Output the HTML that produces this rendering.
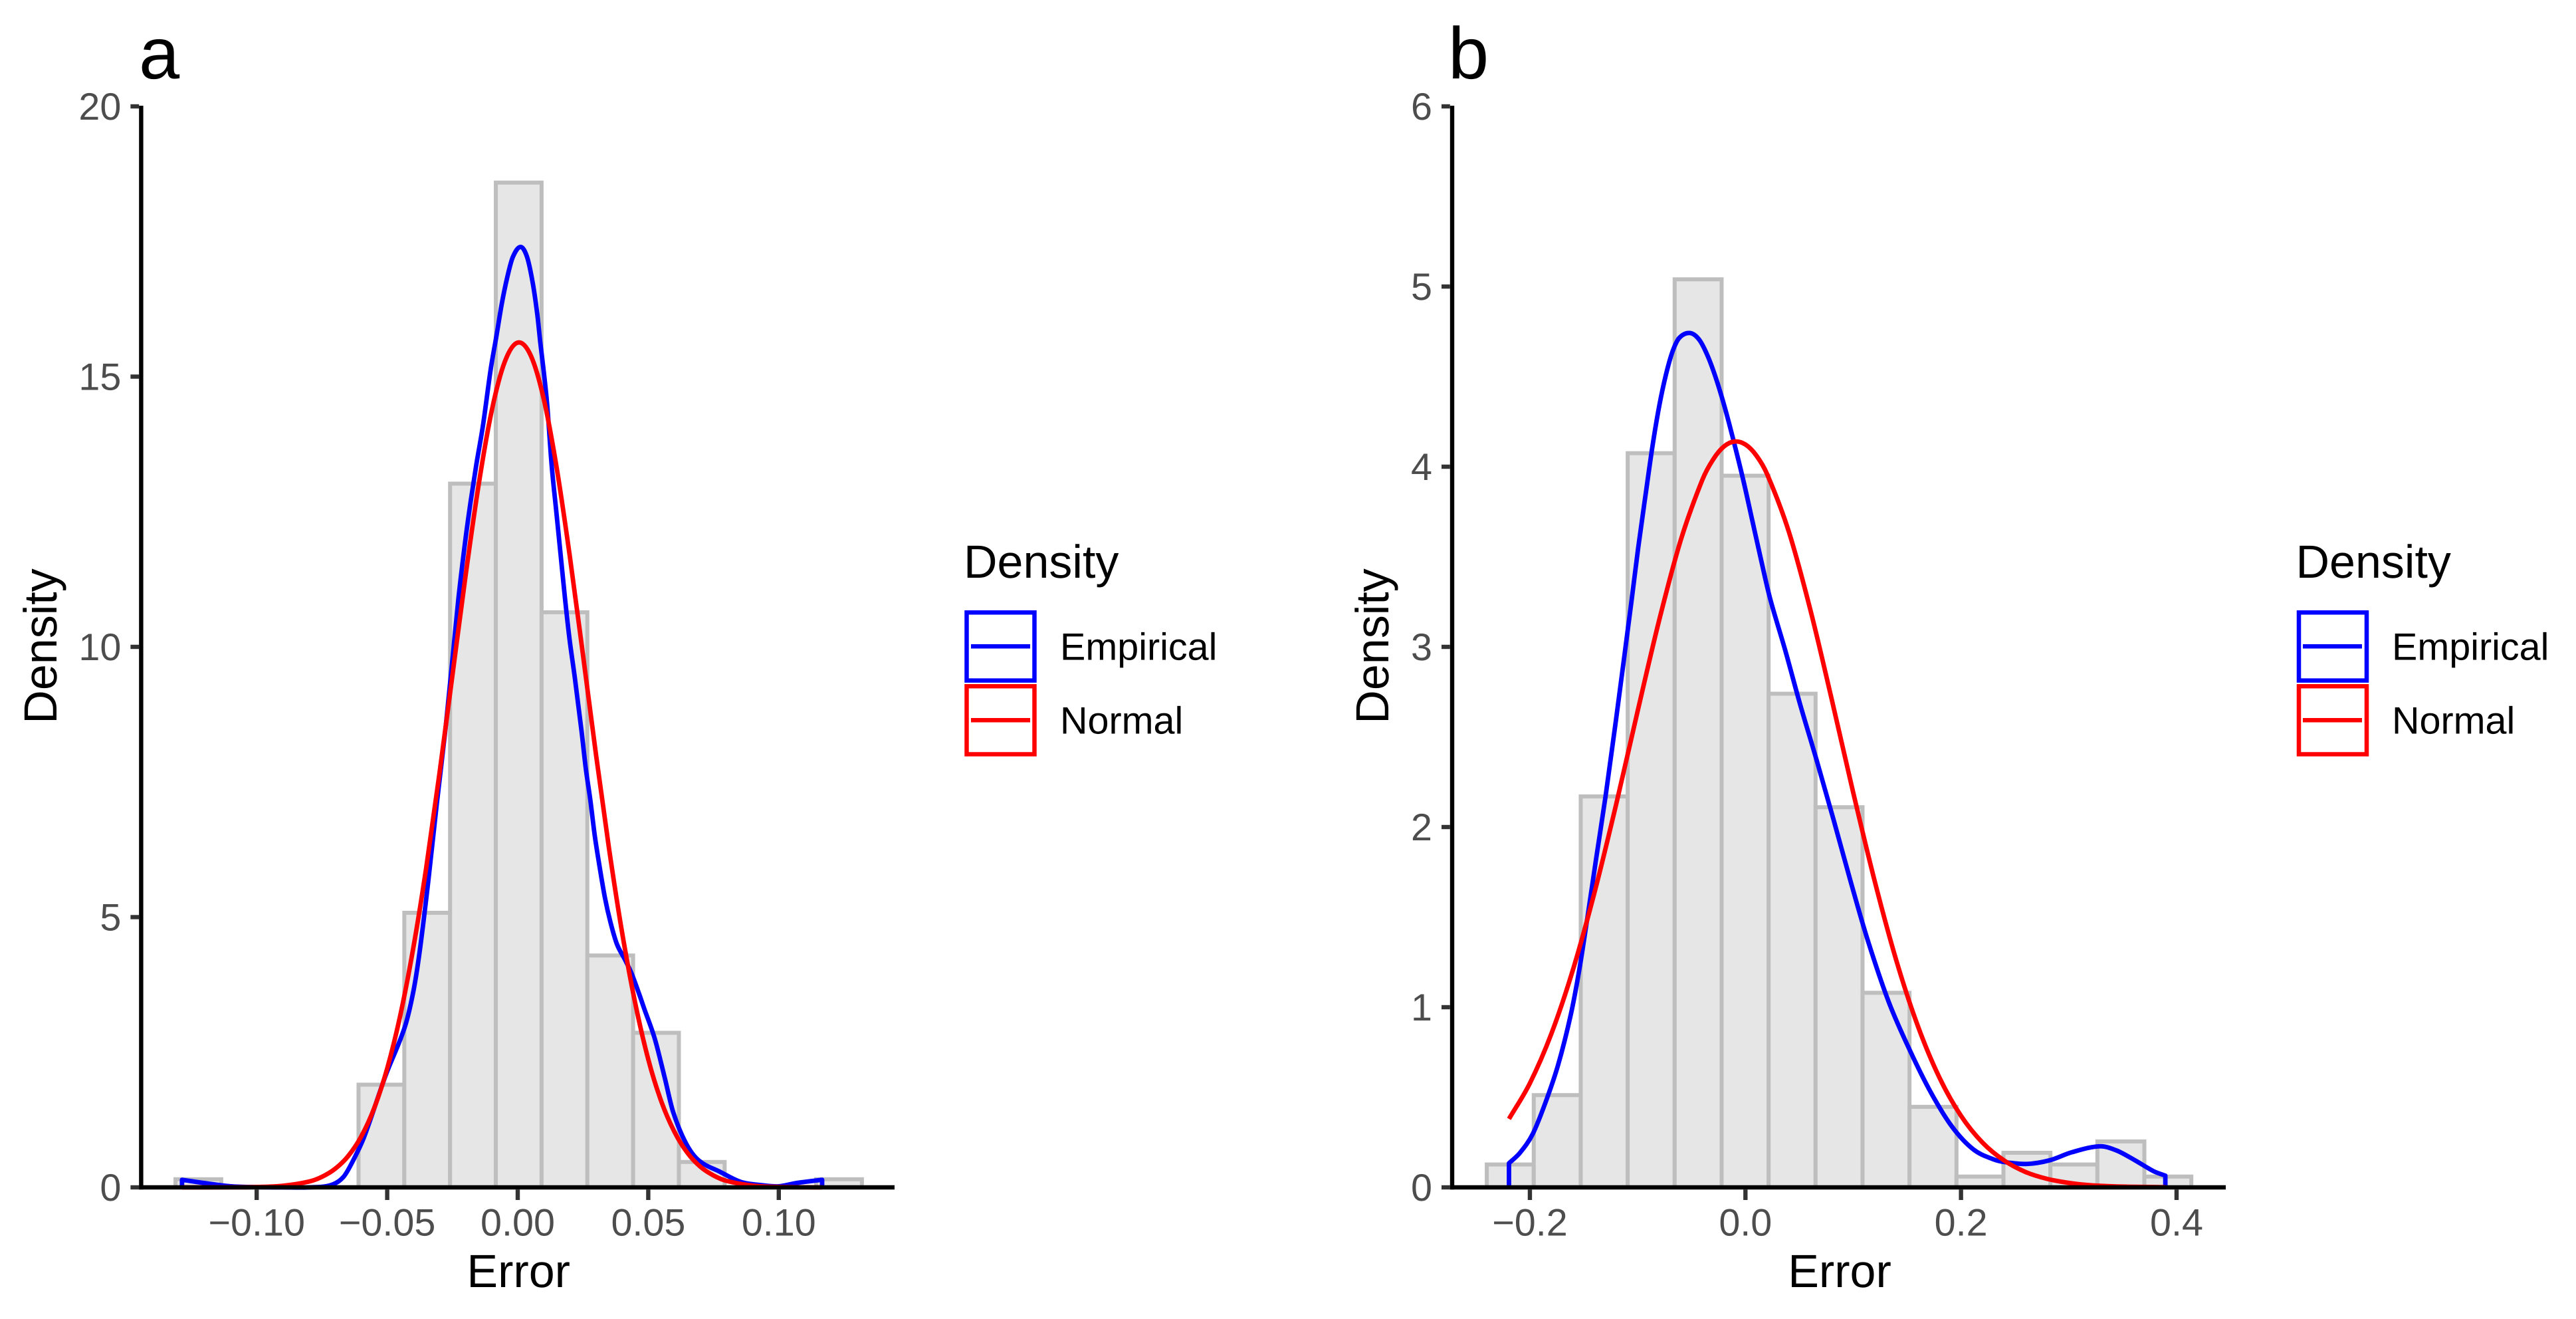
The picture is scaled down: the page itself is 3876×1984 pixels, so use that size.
<!DOCTYPE html>
<html lang="en">
<head>
<meta charset="utf-8">
<title>Error density histograms</title>
<style>
html,body{margin:0;padding:0;background:#fff;}
svg{display:block;font-family:"Liberation Sans",Arial,sans-serif;text-rendering:geometricPrecision;}
</style>
</head>
<body>
<svg id="chart" xmlns="http://www.w3.org/2000/svg" width="3876" height="1984" viewBox="0 0 3876 1984">
  <rect x="0" y="0" width="3876" height="1984" fill="#ffffff"/>
  <g id="panel-a"></g>
  <g id="panel-b"></g>

  <text x="209" y="118" font-size="110" fill="#000">a</text>
  <text x="2179" y="118" font-size="110" fill="#000">b</text>

  <g>
    <text x="1450" y="869" font-size="70" fill="#000">Density</text>
    <g>
      <rect x="1454.5" y="921.3" width="102" height="102.3" fill="#fff" stroke="#0000ff" stroke-width="6.5"/>
      <line x1="1461" x2="1550" y1="972.3" y2="972.3" stroke="#0000ff" stroke-width="6.5"/>
      <text x="1595" y="992.3" font-size="57.5" fill="#000">Empirical</text>
    </g>
    <g>
      <rect x="1454.5" y="1032.2" width="102" height="102.3" fill="#fff" stroke="#ff0000" stroke-width="6.5"/>
      <line x1="1461" x2="1550" y1="1083.3" y2="1083.3" stroke="#ff0000" stroke-width="6.5"/>
      <text x="1595" y="1103.3" font-size="57.5" fill="#000">Normal</text>
    </g>
  </g>

  <g>
    <text x="3454.5" y="869" font-size="70" fill="#000">Density</text>
    <g>
      <rect x="3459" y="921.3" width="102" height="102.3" fill="#fff" stroke="#0000ff" stroke-width="6.5"/>
      <line x1="3465" x2="3554" y1="972.3" y2="972.3" stroke="#0000ff" stroke-width="6.5"/>
      <text x="3599" y="992.3" font-size="57.5" fill="#000">Empirical</text>
    </g>
    <g>
      <rect x="3459" y="1032.2" width="102" height="102.3" fill="#fff" stroke="#ff0000" stroke-width="6.5"/>
      <line x1="3465" x2="3554" y1="1083.3" y2="1083.3" stroke="#ff0000" stroke-width="6.5"/>
      <text x="3599" y="1103.3" font-size="57.5" fill="#000">Normal</text>
    </g>
  </g>
</svg>

<script>
// ---- Panel a data ----
const aBinStart = -0.1311;
const aBinWidth = 0.01753;
const aBinDensity = [0.15, 0, 0, 0, 1.9, 5.08, 13.02, 18.59, 10.64, 4.29, 2.86, 0.47, 0, 0, 0.15];
const aXTicks = [-0.10, -0.05, 0.00, 0.05, 0.10];
const aXTickLabels = ['\u22120.10', '\u22120.05', '0.00', '0.05', '0.10'];
const aYTicks = [0, 5, 10, 15, 20];
const aYTickLabels = ['0', '5', '10', '15', '20'];
const aEmpiricalX = [-0.1286, -0.1286, -0.12, -0.11, -0.10, -0.09, -0.08, -0.0717, -0.0668, -0.0627, -0.0587, -0.0506, -0.0433, -0.04, -0.0376, -0.0343, -0.031, -0.0277, -0.0248, -0.0227, -0.0201, -0.018, -0.0159, -0.0133, -0.0104, -0.0082, -0.0061, -0.004, -0.0019, 0.0011, 0.0036, 0.0058, 0.0075, 0.0087, 0.01, 0.0113, 0.013, 0.0147, 0.0164, 0.0181, 0.0198, 0.0219, 0.0244, 0.0261, 0.0278, 0.0295, 0.0312, 0.0334, 0.0355, 0.038, 0.041, 0.0435, 0.0465, 0.0485, 0.0525, 0.0563, 0.0595, 0.0644, 0.0693, 0.0774, 0.0855, 0.0936, 0.10, 0.1067, 0.1166, 0.1166];
const aEmpiricalY = [0, 0.14, 0.08, 0.02, 0.005, 0, 0, 0.04, 0.19, 0.53, 0.95, 2.07, 2.96, 3.62, 4.35, 5.65, 7.1, 8.47, 9.87, 10.9, 11.96, 12.7, 13.36, 14.1, 15.12, 15.74, 16.35, 16.84, 17.21, 17.4, 17.21, 16.72, 16.15, 15.61, 15.08, 14.47, 13.36, 12.54, 11.72, 10.9, 10.16, 9.42, 8.46, 7.74, 7.17, 6.51, 5.98, 5.36, 4.91, 4.5, 4.22, 3.97, 3.58, 3.3, 2.75, 2.03, 1.4, 0.82, 0.5, 0.29, 0.1, 0.04, 0.02, 0.08, 0.14, 0];
const aNormalX = [-0.1286, -0.11, -0.10, -0.09, -0.08, -0.075, -0.07, -0.065, -0.06, -0.055, -0.05, -0.045, -0.04, -0.035, -0.03, -0.025, -0.02, -0.015, -0.01, -0.005, 0, 0.005, 0.01, 0.015, 0.02, 0.025, 0.03, 0.035, 0.04, 0.045, 0.05, 0.055, 0.06, 0.065, 0.07, 0.075, 0.08, 0.09, 0.10, 0.1166];
const aNormalY = [0, 0.0013, 0.0066, 0.029, 0.107, 0.195, 0.342, 0.576, 0.936, 1.464, 2.2, 3.18, 4.43, 5.93, 7.65, 9.48, 11.31, 12.99, 14.36, 15.27, 15.63, 15.39, 14.58, 13.29, 11.66, 9.85, 8.0, 6.26, 4.71, 3.41, 2.37, 1.59, 1.03, 0.64, 0.38, 0.22, 0.12, 0.033, 0.008, 0];

// ---- Panel b data ----
const bBinStart = -0.24;
const bBinWidth = 0.04358;
const bBinDensity = [0.127, 0.512, 2.17, 4.075, 5.04, 3.95, 2.74, 2.11, 1.08, 0.447, 0.06, 0.192, 0.127, 0.255, 0.06];
const bXTicks = [-0.2, 0.0, 0.2, 0.4];
const bXTickLabels = ['\u22120.2', '0.0', '0.2', '0.4'];
const bYTicks = [0, 1, 2, 3, 4, 5, 6];
const bYTickLabels = ['0', '1', '2', '3', '4', '5', '6'];
const bEmpiricalX = [-0.2194, -0.2194, -0.2092, -0.1974, -0.1856, -0.1738, -0.162, -0.1541, -0.1463, -0.1384, -0.1298, -0.12, -0.1118, -0.1056, -0.0995, -0.0923, -0.0861, -0.0799, -0.0738, -0.0676, -0.0614, -0.0516, -0.0429, -0.0347, -0.0265, -0.0183, -0.01, -0.0018, 0.0064, 0.0146, 0.0228, 0.0372, 0.0503, 0.0661, 0.0818, 0.0975, 0.1133, 0.1329, 0.1526, 0.1722, 0.1919, 0.2116, 0.2304, 0.2408, 0.2615, 0.2822, 0.3029, 0.3288, 0.3442, 0.3615, 0.3786, 0.3896, 0.3896];
const bEmpiricalY = [0, 0.134, 0.192, 0.296, 0.47, 0.68, 0.96, 1.21, 1.51, 1.83, 2.17, 2.6, 2.974, 3.26, 3.55, 3.86, 4.12, 4.34, 4.51, 4.64, 4.715, 4.742, 4.705, 4.61, 4.475, 4.31, 4.12, 3.92, 3.7, 3.48, 3.27, 2.975, 2.69, 2.37, 2.04, 1.7, 1.375, 1.03, 0.76, 0.525, 0.335, 0.21, 0.155, 0.14, 0.13, 0.15, 0.195, 0.228, 0.205, 0.15, 0.09, 0.065, 0];
const bNormalX = [-0.2194, -0.20, -0.18, -0.16, -0.14, -0.12, -0.10, -0.08, -0.06, -0.04, -0.03, -0.02, -0.01, 0, 0.01, 0.02, 0.04, 0.06, 0.08, 0.10, 0.12, 0.14, 0.16, 0.18, 0.20, 0.22, 0.24, 0.26, 0.28, 0.30, 0.32, 0.34, 0.36, 0.3896];
const bNormalY = [0.38, 0.578, 0.854, 1.209, 1.638, 2.125, 2.644, 3.149, 3.593, 3.927, 4.04, 4.112, 4.14, 4.123, 4.063, 3.96, 3.644, 3.211, 2.71, 2.191, 1.698, 1.259, 0.895, 0.609, 0.397, 0.248, 0.149, 0.085, 0.047, 0.025, 0.012, 0.006, 0.003, 0.001];

const SVG_NS = 'http://www.w3.org/2000/svg';

function make(parent, tag, attrs) {
  const el = document.createElementNS(SVG_NS, tag);
  for (const k in attrs) el.setAttribute(k, attrs[k]);
  parent.appendChild(el);
  return el;
}

// Smooth function-graph path: Hermite segments with finite-difference slopes,
// straight lines where x repeats (the closed ends of the density curves).
function curvePath(xs, ys, sx, sy) {
  const p = xs.map((x, i) => [sx(x), sy(ys[i])]);
  const n = p.length;
  const slope = p.map(function (pt, i) {
    const hasPrev = i > 0 && xs[i - 1] !== xs[i];
    const hasNext = i < n - 1 && xs[i + 1] !== xs[i];
    const a = hasPrev ? p[i - 1] : pt;
    const b = hasNext ? p[i + 1] : pt;
    return b[0] === a[0] ? 0 : (b[1] - a[1]) / (b[0] - a[0]);
  });
  let d = 'M' + p[0][0].toFixed(2) + ' ' + p[0][1].toFixed(2);
  for (let i = 0; i < n - 1; i++) {
    const a = p[i], b = p[i + 1];
    if (xs[i] === xs[i + 1]) {
      d += 'L' + b[0].toFixed(2) + ' ' + b[1].toFixed(2);
      continue;
    }
    const h = (b[0] - a[0]) / 3;
    d += 'C' + (a[0] + h).toFixed(2) + ' ' + (a[1] + slope[i] * h).toFixed(2) + ' ' +
      (b[0] - h).toFixed(2) + ' ' + (b[1] - slope[i + 1] * h).toFixed(2) + ' ' +
      b[0].toFixed(2) + ' ' + b[1].toFixed(2);
  }
  return d;
}

function drawPanel(g, sx, sy, opt) {
  const barsG = make(g, 'g', {});
  
  
  opt.density.forEach(function (v, i) {
    const x0 = sx(opt.binStart + i * opt.binWidth);
    const x1 = sx(opt.binStart + (i + 1) * opt.binWidth);
    const bar = make(barsG, 'rect', {
      x: x0, y: sy(v), width: x1 - x0, height: sy(0) - sy(v),
      fill: '#E6E6E6', stroke: '#BEBEBE', 'stroke-width': 6
    });
    
    
  });

  const emp = make(g, 'path', {
    d: curvePath(opt.empX, opt.empY, sx, sy),
    fill: 'none', stroke: '#0000ff', 'stroke-width': 6.8, 'stroke-linejoin': 'round'
  });
  
  

  const norm = make(g, 'path', {
    d: curvePath(opt.normX, opt.normY, sx, sy),
    fill: 'none', stroke: '#ff0000', 'stroke-width': 6.8, 'stroke-linejoin': 'round'
  });
  
  

  const yAxis = make(g, 'line', {
    x1: opt.axisX, x2: opt.axisX, y1: sy(opt.yTicks[opt.yTicks.length - 1]) - 1, y2: sy(0) + 3.2,
    stroke: '#000', 'stroke-width': 6.4
  });
  
  

  const xAxis = make(g, 'line', {
    x1: opt.axisX - 3.2, x2: opt.axisEnd, y1: sy(0), y2: sy(0),
    stroke: '#000', 'stroke-width': 6.4
  });
  
  

  opt.yTicks.forEach(function (v, i) {
    const tick = make(g, 'line', {
      x1: opt.axisX - 16, x2: opt.axisX - 3.2, y1: sy(v), y2: sy(v),
      stroke: '#333333', 'stroke-width': 6.4
    });
    
    
    const label = make(g, 'text', {
      x: opt.axisX - 30, y: sy(v) + 20, 'text-anchor': 'end',
      'font-size': 57.5, fill: '#4D4D4D'
    });
    label.textContent = opt.yLabels[i];
    
    
  });

  opt.xTicks.forEach(function (v, i) {
    const tick = make(g, 'line', {
      x1: sx(v), x2: sx(v), y1: sy(0) + 3.2, y2: sy(0) + 19,
      stroke: '#333333', 'stroke-width': 6.4
    });
    
    
    const label = make(g, 'text', {
      x: sx(v), y: sy(0) + 72.5, 'text-anchor': 'middle',
      'font-size': 57.5, fill: '#4D4D4D'
    });
    label.textContent = opt.xLabels[i];
    
    
  });

  const xTitle = make(g, 'text', {
    x: (opt.axisX + opt.axisEnd) / 2 + 1, y: 1936, 'text-anchor': 'middle',
    'font-size': 70, fill: '#000'
  });
  xTitle.textContent = 'Error';
  
  

  const yTitle = make(g, 'text', {
    x: 0, y: 0, 'text-anchor': 'middle', 'font-size': 70, fill: '#000',
    transform: 'translate(' + opt.yTitleX + ' 972) rotate(-90)'
  });
  yTitle.textContent = 'Density';
  
  
}

function xScaleA(v) { return 779 + v * 3928; }
function yScaleA(v) { return 1786 - v * 81.3; }
function xScaleB(v) { return 2626.3 + v * 1621.7; }
function yScaleB(v) { return 1786 - v * 271; }

drawPanel(document.getElementById('panel-a'), xScaleA, yScaleA, {
  binStart: aBinStart, binWidth: aBinWidth, density: aBinDensity,
  empX: aEmpiricalX, empY: aEmpiricalY, normX: aNormalX, normY: aNormalY,
  xTicks: aXTicks, xLabels: aXTickLabels, yTicks: aYTicks, yLabels: aYTickLabels,
  axisX: 212.4, axisEnd: 1346, yTitleX: 85
});
drawPanel(document.getElementById('panel-b'), xScaleB, yScaleB, {
  binStart: bBinStart, binWidth: bBinWidth, density: bBinDensity,
  empX: bEmpiricalX, empY: bEmpiricalY, normX: bNormalX, normY: bNormalY,
  xTicks: bXTicks, xLabels: bXTickLabels, yTicks: bYTicks, yLabels: bYTickLabels,
  axisX: 2185, axisEnd: 3349, yTitleX: 2089
});
</script>
</body>
</html>
